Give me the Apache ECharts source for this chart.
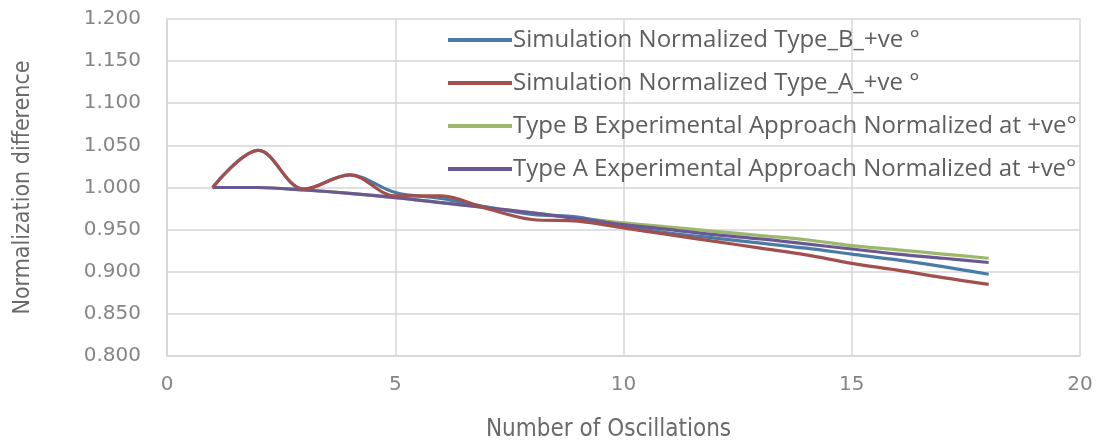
<!DOCTYPE html>
<html>
<head>
<meta charset="utf-8">
<script src="https://cdn.jsdelivr.net/npm/echarts@6/dist/echarts.min.js"></script>
<style>
  html, body { margin: 0; padding: 0; background: #ffffff; }
  #chart { width: 1098px; height: 443px; }
</style>
</head>
<body>
<div id="chart"></div>
<script>
// Oscillation index (x) and normalized values for each series
const oscillations = [1, 2, 3, 4, 5, 6, 7, 8, 9, 10, 11, 12, 13, 14, 15, 16, 17, 18];
const simTypeB = [1.000, 1.044, 0.998, 1.015, 0.994, 0.987, 0.977, 0.968, 0.965, 0.954, 0.946, 0.940, 0.934, 0.928, 0.921, 0.914, 0.906, 0.897];
const simTypeA = [1.000, 1.044, 0.998, 1.015, 0.990, 0.990, 0.975, 0.962, 0.960, 0.952, 0.944, 0.936, 0.928, 0.920, 0.910, 0.902, 0.893, 0.885];
const expTypeB = [1.000, 1.000, 0.997, 0.993, 0.988, 0.982, 0.976, 0.970, 0.964, 0.958, 0.953, 0.948, 0.943, 0.938, 0.931, 0.926, 0.921, 0.916];
const expTypeA = [1.000, 1.000, 0.997, 0.993, 0.988, 0.982, 0.976, 0.970, 0.963, 0.956, 0.950, 0.944, 0.939, 0.933, 0.927, 0.921, 0.916, 0.911];

const seriesNames = [
  'Simulation Normalized Type_B_+ve °',
  'Simulation Normalized Type_A_+ve °',
  'Type B Experimental Approach Normalized at +ve°',
  'Type A Experimental Approach Normalized at +ve°'
];
const seriesColors = ['#4a7aa6', '#a24f4d', '#9cb86a', '#6a5892'];
const seriesValues = [simTypeB, simTypeA, expTypeB, expTypeA];
// drawing order: simulated Type A over Type A experimental over the rest
const seriesZ = [2, 4, 1, 3];

const legendFont = '"Open Sans", "Liberation Sans", sans-serif';
const tickFont = '"DejaVu Sans", sans-serif';
const titleFont = '"Liberation Sans Narrow", "DejaVu Sans Condensed", "Liberation Sans", sans-serif';

function pairs(ys) {
  return oscillations.map((x, i) => [x, ys[i]]);
}

const chart = echarts.init(document.getElementById('chart'), null, { renderer: 'canvas' });

chart.setOption({
  backgroundColor: '#ffffff',
  animation: false,
  grid: { left: 167, right: 18, top: 19, bottom: 87, outerBoundsMode: 'none', containLabel: false },
  legend: {
    orient: 'vertical',
    left: 443,
    top: 23,
    itemGap: 19,
    itemWidth: 64,
    itemHeight: 4,
    icon: 'rect',
    data: seriesNames,
    textStyle: {
      color: '#5e5e5e', fontSize: 24, lineHeight: 24, fontFamily: legendFont,
      padding: [0, 0, 0, -4]
    }
  },
  xAxis: {
    type: 'value',
    min: 0,
    max: 20,
    interval: 5,
    name: 'Number of Oscillations',
    nameLocation: 'middle',
    nameGap: 62,
    nameTextStyle: { color: '#6a6a6a', fontSize: 24, fontFamily: titleFont, padding: [0, 30, 0, 0] },
    axisLine: { show: true, lineStyle: { color: '#d6d6d6', width: 1.5 } },
    axisTick: { show: false },
    axisLabel: { color: '#858585', fontSize: 20, fontFamily: tickFont, margin: 19 },
    splitLine: { show: true, lineStyle: { color: '#d6d6d6', width: 1.5 } }
  },
  yAxis: {
    type: 'value',
    min: 0.8,
    max: 1.2,
    interval: 0.05,
    name: 'Normalization difference',
    nameLocation: 'middle',
    nameGap: 132,
    nameTextStyle: { color: '#6a6a6a', fontSize: 23, fontFamily: titleFont },
    axisLine: { show: true, lineStyle: { color: '#d6d6d6', width: 1.5 } },
    axisTick: { show: false },
    axisLabel: {
      color: '#858585', fontSize: 20, fontFamily: tickFont, margin: 26,
      formatter: v => v.toFixed(3)
    },
    splitLine: { show: true, lineStyle: { color: '#d6d6d6', width: 1.5 } }
  },
  series: seriesNames.map((name, i) => ({
    name: name,
    type: 'line',
    data: pairs(seriesValues[i]),
    smooth: 0.35,
    showSymbol: false,
    symbol: 'none',
    color: seriesColors[i],
    lineStyle: { width: 3.2, color: seriesColors[i] },
    z: seriesZ[i]
  }))
});
</script>
</body>
</html>
